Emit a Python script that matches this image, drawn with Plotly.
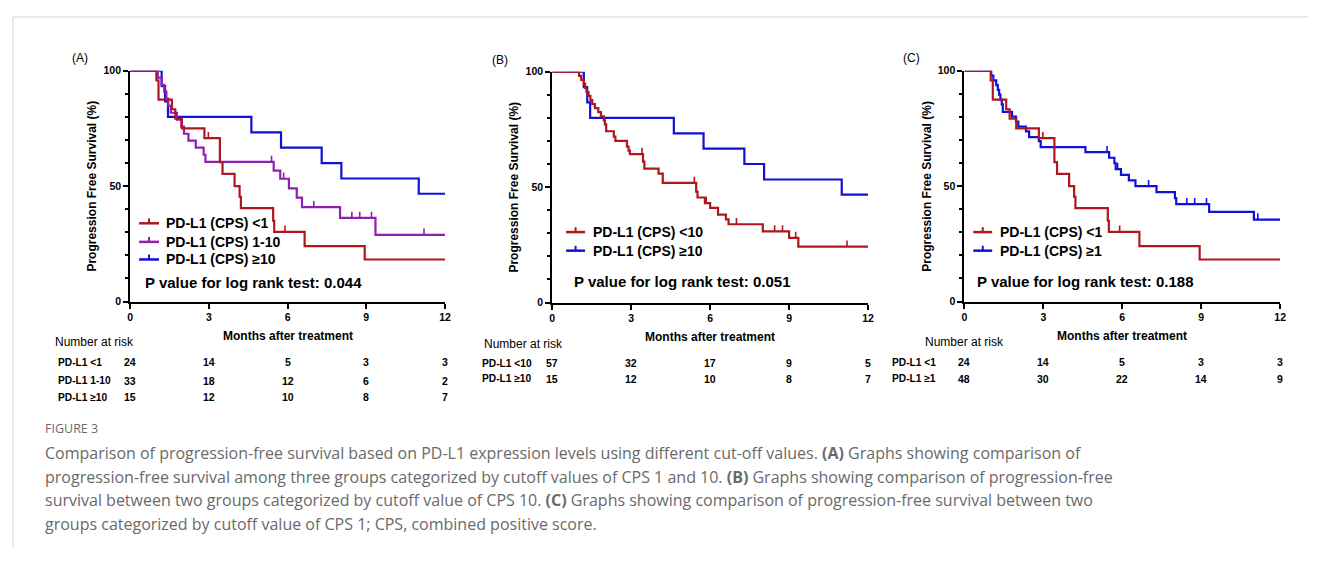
import plotly.graph_objects as go

# ---------------- data ----------------
MONTH_TICKS = [0, 3, 6, 9, 12]
SURV_TICKS = [0, 50, 100]

# CPS < 1  (panels A and C)
LOW1_T = [0, 1.0, 1.08, 1.59, 1.72, 1.97, 2.83, 3.42, 3.52, 3.98, 4.17, 4.22, 5.45, 5.49, 6.65, 8.94, 12]
LOW1_S = [100, 95.8, 87.5, 83.3, 79.2, 75.0, 70.8, 60.4, 55.3, 50.0, 45.4, 40.5, 35.0, 30.2, 24.0, 18.2, 18.2]
LOW1_CENS = [2.98, 5.9]

# CPS 1-10 (panel A)
MID_T = [0, 1.05, 1.2, 1.3, 1.38, 1.45, 1.55, 1.78, 1.95, 2.05, 2.22, 2.5, 2.8, 2.87,
         5.47, 5.72, 6.05, 6.35, 6.55, 8.0, 9.35, 12]
MID_S = [100, 97.0, 93.9, 90.9, 87.9, 84.8, 81.8, 78.8, 75.8, 72.7, 69.7, 66.7, 63.6, 60.5,
         56.7, 53.2, 49.0, 45.0, 40.9, 36.2, 28.9, 28.9]
MID_CENS = [0.8, 0.92, 5.39, 5.85, 7.0, 8.45, 8.75, 9.2, 11.2]

# CPS >= 10 (panels A and B)
HIGH10_T = [0, 1.2, 1.33, 1.44, 4.62, 5.75, 7.3, 8.05, 11.0, 12]
HIGH10_S = [100, 93.3, 86.7, 80.0, 73.3, 66.7, 60.0, 53.3, 46.7, 46.7]
HIGH10_CENS = []

# CPS < 10 (panel B)
LOW10_T = [0, 1.02, 1.1, 1.2, 1.25, 1.3, 1.38, 1.45, 1.52, 1.62, 1.75, 1.85, 1.96, 2.0, 2.05,
           2.34, 2.4, 2.84, 2.9, 2.95, 3.45, 3.5, 4.04, 4.2, 5.47, 5.52, 5.8, 6.0, 6.3, 6.6,
           6.7, 8.0, 9.0, 9.35, 12]
LOW10_S = [100, 98.2, 96.5, 94.7, 93.0, 91.2, 89.5, 87.7, 86.0, 84.2, 82.5, 80.7, 78.9, 77.2, 74.2,
           71.9, 70.0, 67.5, 65.8, 64.3, 61.0, 58.0, 55.8, 51.8, 48.0, 45.5, 43.1, 41.0, 38.1, 36.0,
           33.9, 30.8, 28.0, 24.2, 24.2]
LOW10_CENS = [0.83, 0.95, 3.41, 5.4, 5.85, 7.0, 8.45, 8.75, 9.25, 11.2]

# CPS >= 1 (panel C)
HIGH1_T = [0, 1.02, 1.1, 1.21, 1.27, 1.32, 1.37, 1.42, 1.46, 1.81, 1.96, 2.05, 2.34, 2.46, 2.83,
           2.9, 4.6, 5.5, 5.7, 5.75, 5.95, 6.25, 6.5, 7.3, 8.0, 8.05, 9.3, 11.0, 12]
HIGH1_S = [100, 97.9, 95.8, 93.8, 91.7, 89.6, 87.5, 85.4, 82.2, 80.1, 78.0, 75.8, 73.7, 71.2, 69.5,
           66.9, 64.7, 62.3, 59.9, 57.4, 54.9, 52.5, 50.0, 47.4, 44.8, 42.2, 38.8, 35.5, 35.5]
HIGH1_CENS = [0.83, 0.96, 5.42, 5.82, 7.0, 8.45, 8.75, 9.2, 11.15]

# number at risk tables
RISK_A_LABELS = ["PD-L1 <1", "PD-L1 1-10", "PD-L1 \u226510"]
RISK_A = [[24, 14, 5, 3, 3], [33, 18, 12, 6, 2], [15, 12, 10, 8, 7]]
RISK_B_LABELS = ["PD-L1 <10", "PD-L1 \u226510"]
RISK_B = [[57, 32, 17, 9, 5], [15, 12, 10, 8, 7]]
RISK_C_LABELS = ["PD-L1 <1", "PD-L1 \u22651"]
RISK_C = [[24, 14, 5, 3, 3], [48, 30, 22, 14, 9]]

LEGEND_A = ["PD-L1 (CPS) <1", "PD-L1 (CPS) 1-10", "PD-L1 (CPS) \u226510"]
LEGEND_B = ["PD-L1 (CPS) <10", "PD-L1 (CPS) \u226510"]
LEGEND_C = ["PD-L1 (CPS) <1", "PD-L1 (CPS) \u22651"]
P_VALUES = ["0.044", "0.051", "0.188"]
PANEL_LABELS = ["(A)", "(B)", "(C)"]

CAPTION_HEAD = "FIGURE 3"
CAPTION_LINES = [
    "Comparison of progression-free survival based on PD-L1 expression levels using different cut-off values. <b>(A)</b> Graphs showing comparison of",
    "progression-free survival among three groups categorized by cutoff values of CPS 1 and 10. <b>(B)</b> Graphs showing comparison of progression-free",
    "survival between two groups categorized by cutoff value of CPS 10. <b>(C)</b> Graphs showing comparison of progression-free survival between two",
    "groups categorized by cutoff value of CPS 1; CPS, combined positive score.",
]

# ---------------- styling ----------------
PAGE_W, PAGE_H = 1322, 561
OFF = 8                      # default body margin of the html page
W, H = PAGE_W - 2 * OFF, PAGE_H - 2 * OFF
RED = "#B0171C"
PURPLE = "#8E1FAF"
BLUE = "#1010D8"
FONT = "Liberation Sans, Arial, sans-serif"
CAP_FONT = "Open Sans, Lato, sans-serif"


def fx(px):
    return (px - OFF) / W


def fy(py):
    return 1 - (py - OFF) / H


def surv_at(T, S, t):
    v = S[0]
    for ti, si in zip(T, S):
        if ti <= t:
            v = si
    return v


# panel geometry in page pixels: x of month 0, x of month 12, y of 100 %, y of 0 %
PANELS = [
    dict(x0=128, x1=445, yt=66, yb=302),
    dict(x0=553, x1=871, yt=67, yb=303),
    dict(x0=968, x1=1286, yt=66, yb=302),
]

SERIES = [
    [(LOW1_T, LOW1_S, LOW1_CENS, RED), (MID_T, MID_S, MID_CENS, PURPLE), (HIGH10_T, HIGH10_S, HIGH10_CENS, BLUE)],
    [(LOW10_T, LOW10_S, LOW10_CENS, RED), (HIGH10_T, HIGH10_S, HIGH10_CENS, BLUE)],
    [(LOW1_T, LOW1_S, LOW1_CENS, RED), (HIGH1_T, HIGH1_S, HIGH1_CENS, BLUE)],
]
LEGENDS = [LEGEND_A, LEGEND_B, LEGEND_C]
LEG_GEOM = [
    dict(lx0=137, lx1=157, tx=162, ys=[222, 241, 259], py=283, px=141),
    dict(lx0=567, lx1=586, tx=592, ys=[231, 250], py=282, px=573),
    dict(lx0=977, lx1=996, tx=1002, ys=[231, 250], py=282, px=979),
]
RISKS = [(RISK_A_LABELS, RISK_A), (RISK_B_LABELS, RISK_B), (RISK_C_LABELS, RISK_C)]
RISK_GEOM = [
    dict(nx=50, ny=343, nanchor="left", lx=53, ys=[364, 383, 400]),
    dict(nx=482, ny=345, nanchor="left", lx=480, ys=[365, 381]),
    dict(nx=968, ny=343, nanchor="center", lx=893, ys=[364, 381]),
]
LABEL_POS = [(77, 53), (500, 55), (915, 53)]

fig = go.Figure()
layout = dict(
    width=W, height=H, margin=dict(l=0, r=0, t=0, b=0),
    paper_bgcolor="white", plot_bgcolor="white", showlegend=False,
)
annotations = []
shapes = []

for i, (pg, series) in enumerate(zip(PANELS, SERIES)):
    n = "" if i == 0 else str(i + 1)
    xa, ya = "x" + n, "y" + n
    layout["xaxis" + n] = dict(
        domain=[fx(pg["x0"]), fx(pg["x1"])], range=[0, 12], anchor=ya,
        tickvals=MONTH_TICKS, ticks="outside", ticklen=5, tickwidth=2, tickcolor="black",
        showline=True, linewidth=2, linecolor="black", showgrid=False, zeroline=False,
        tickfont=dict(family=FONT, size=10.5, color="black", weight="bold"),
    )
    layout["yaxis" + n] = dict(
        domain=[fy(pg["yb"]), fy(pg["yt"])], range=[0, 100], anchor=xa,
        tickvals=SURV_TICKS, ticks="outside", ticklen=5, tickwidth=2, tickcolor="black",
        minor=dict(dtick=10, ticks="outside", ticklen=3, tickwidth=1.5, tickcolor="black"),
        showline=True, linewidth=2, linecolor="black", showgrid=False, zeroline=False,
        tickfont=dict(family=FONT, size=10.5, color="black", weight="bold"),
    )
    # curves (blue first so red sits on top like the reference)
    for T, S, C, col in reversed(series):
        fig.add_trace(go.Scatter(
            x=T, y=S, mode="lines", line=dict(color=col, width=2.2, shape="hv"),
            xaxis=xa, yaxis=ya, hoverinfo="skip", cliponaxis=False,
        ))
        if C:
            cy = [surv_at(T, S, c) for c in C]
            fig.add_trace(go.Scatter(
                x=C, y=cy, mode="markers", marker=dict(size=1, color=col, opacity=0),
                error_y=dict(type="data", symmetric=False, array=[2.7] * len(C),
                             arrayminus=[0] * len(C), width=0, thickness=1.6, color=col),
                xaxis=xa, yaxis=ya, hoverinfo="skip", cliponaxis=False,
            ))
    # legend
    lg = LEG_GEOM[i]
    for (T, S, C, col), txt, ly in zip(series, LEGENDS[i], lg["ys"]):
        shapes.append(dict(type="line", xref="paper", yref="paper",
                           x0=fx(lg["lx0"]), x1=fx(lg["lx1"]), y0=fy(ly), y1=fy(ly),
                           line=dict(color=col, width=2.5)))
        mid = (lg["lx0"] + lg["lx1"]) / 2
        shapes.append(dict(type="line", xref="paper", yref="paper",
                           x0=fx(mid), x1=fx(mid), y0=fy(ly), y1=fy(ly - 5),
                           line=dict(color=col, width=2)))
        annotations.append(dict(text=txt, xref="paper", yref="paper", x=fx(lg["tx"]), y=fy(ly),
                                xanchor="left", yanchor="middle", showarrow=False,
                                font=dict(family=FONT, size=14, color="black", weight="bold")))
    annotations.append(dict(text="P value for log rank test: " + P_VALUES[i], xref="paper", yref="paper",
                            x=fx(lg["px"]), y=fy(lg["py"]), xanchor="left", yanchor="middle",
                            showarrow=False,
                            font=dict(family=FONT, size=15, color="black", weight="bold")))
    # axis titles
    annotations.append(dict(text="Progression Free Survival (%)", xref="paper", yref="paper",
                            x=fx(pg["x0"] - 38), y=fy((pg["yt"] + pg["yb"]) / 2), textangle=-90,
                            xanchor="center", yanchor="middle", showarrow=False,
                            font=dict(family=FONT, size=12, color="black", weight="bold")))
    annotations.append(dict(text="Months after treatment", xref="paper", yref="paper",
                            x=fx((pg["x0"] + pg["x1"]) / 2), y=fy(pg["yb"] + 35),
                            xanchor="center", yanchor="middle", showarrow=False,
                            font=dict(family=FONT, size=12, color="black", weight="bold")))
    # panel label
    lx, lyy = LABEL_POS[i]
    annotations.append(dict(text=PANEL_LABELS[i], xref="paper", yref="paper", x=fx(lx), y=fy(lyy),
                            xanchor="center", yanchor="middle", showarrow=False,
                            font=dict(family=FONT, size=12, color="black")))
    # number at risk
    rg = RISK_GEOM[i]
    labels, rows = RISKS[i]
    annotations.append(dict(text="Number at risk", xref="paper", yref="paper", x=fx(rg["nx"]),
                            y=fy(rg["ny"]), xanchor=rg["nanchor"], yanchor="middle", showarrow=False,
                            font=dict(family=FONT, size=12, color="black")))
    for lab, row, ry in zip(labels, rows, rg["ys"]):
        annotations.append(dict(text=lab, xref="paper", yref="paper", x=fx(rg["lx"]), y=fy(ry),
                                xanchor="left", yanchor="middle", showarrow=False,
                                font=dict(family=FONT, size=10.2, color="black", weight="bold")))
        for t, v in zip(MONTH_TICKS, row):
            annotations.append(dict(text=str(v), xref=xa, yref="paper", x=t, y=fy(ry),
                                    xanchor="center", yanchor="middle", showarrow=False,
                                    font=dict(family=FONT, size=10.5, color="black", weight="bold")))

# caption
annotations.append(dict(text=CAPTION_HEAD, xref="paper", yref="paper", x=fx(40), y=fy(432),
                        xanchor="left", yanchor="middle", showarrow=False,
                        font=dict(family=CAP_FONT, size=12.5, color="#6a6a6a")))
for k, line in enumerate(CAPTION_LINES):
    annotations.append(dict(text=line, xref="paper", yref="paper", x=fx(40), y=fy(457 + 24 * k),
                            xanchor="left", yanchor="middle", showarrow=False,
                            font=dict(family=CAP_FONT, size=16, color="#6a6a6a")))

# frame lines
shapes.append(dict(type="line", xref="paper", yref="paper", x0=fx(10), x1=1, y0=fy(11), y1=fy(11),
                   line=dict(color="#d4d4d4", width=1)))
shapes.append(dict(type="line", xref="paper", yref="paper", x0=fx(10), x1=fx(10), y0=fy(11), y1=0,
                   line=dict(color="#d4d4d4", width=1)))

layout["annotations"] = annotations
layout["shapes"] = shapes
fig.update_layout(**layout)
fig.write_html("out.html", config={"displayModeBar": False})
